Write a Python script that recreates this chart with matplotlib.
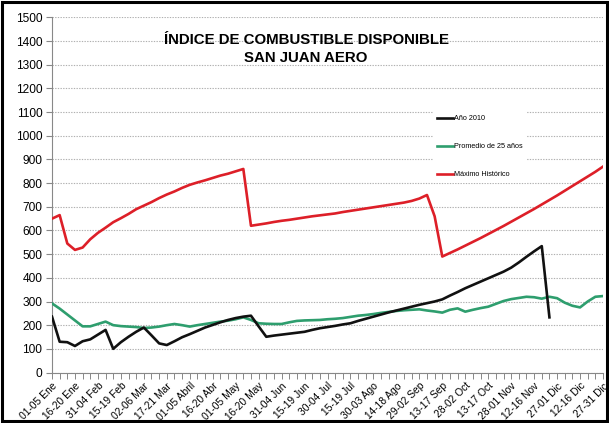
import matplotlib
matplotlib.use("Agg")
import matplotlib.pyplot as plt
import numpy as np
from matplotlib.lines import Line2D
from matplotlib.patches import Rectangle

plt.rcParams['font.family'] = ['Liberation Sans', 'DejaVu Sans']

labels = ["01-05 Ene", "16-20 Ene", "31-04 Feb", "15-19 Feb", "02-06 Mar", "17-21 Mar",
          "01-05 Abril", "16-20 Abr", "01-05 May", "16-20 May", "31-04 Jun", "15-19 Jun",
          "30-04 Jul", "15-19 Jul", "30-03 Ago", "14-18 Ago", "29-02 Sep", "13-17 Sep",
          "28-02 Oct", "13-17 Oct", "28-01 Nov", "12-16 Nov", "27-01 Dic", "12-16 Dic",
          "27-31 Dic"]

anio_2010 = [236, 130, 128, 112, 132, 140, 160, 180, 100, 128, 151, 172, 190, 157, 123, 116,
             132, 149, 162, 176, 190, 201, 212, 222, 230, 236, 240, 195, 151, 156, 160, 164,
             168, 172, 180, 187, 192, 197, 203, 208, 218, 227, 236, 245, 254, 262, 270, 278,
             286, 293, 300, 309, 325, 340, 356, 370, 384, 398, 412, 426, 443, 465, 489, 512,
             534, 233]

promedio_25 = [292, 270, 245, 220, 195, 195, 205, 215, 200, 196, 194, 192, 188, 190, 194, 200,
               205, 200, 194, 200, 205, 210, 215, 219, 225, 233, 222, 208, 206, 205, 205, 212,
               218, 220, 221, 222, 225, 227, 230, 235, 240, 243, 247, 252, 256, 260, 263, 265,
               267, 262, 258, 253, 265, 271, 257, 265, 272, 278, 290, 302, 310, 315, 320, 318,
               312, 320, 314, 295, 282, 275, 300, 320, 323]

maximo_hist = [650, 665, 545, 518, 528, 563, 590, 612, 635, 652, 670, 690, 705, 720, 737, 752,
               765, 780, 793, 803, 812, 822, 832, 840, 850, 860, 620, 625, 630, 636, 641, 645,
               650, 655, 660, 664, 668, 672, 678, 683, 688, 693, 698, 703, 708, 713, 718, 725,
               735, 750, 660, 490, 505, 520, 536, 552, 568, 585, 602, 619, 637, 655, 673, 691,
               710, 729, 748, 768, 788, 808, 828, 848, 870]

series_names = ["Año 2010", "Promedio de 25 años", "Máximo Histórico"]
colors = ["#111111", "#2e9e6e", "#dd1f28"]

W, H = 609, 423
fig = plt.figure(figsize=(W / 100, H / 100), dpi=100)
left, right, top, bottom = 52, 603, 17.5, 372.5
ax = fig.add_axes([left / W, 1 - bottom / H, (right - left) / W, (bottom - top) / H])

n = len(maximo_hist)
x_all = np.arange(n)
ax.plot(np.arange(len(anio_2010)), anio_2010, color=colors[0], lw=1.9, zorder=4)
ax.plot(x_all, promedio_25, color=colors[1], lw=1.9, zorder=3)
ax.plot(x_all, maximo_hist, color=colors[2], lw=1.9, zorder=3)

ax.set_xlim(0, n - 1)
ax.set_ylim(0, 1500)
ax.set_yticks(np.arange(0, 1501, 100))
ax.set_xticks(x_all, minor=True)
ax.set_xticks(np.arange(0, n, 3))
ax.set_xticklabels(labels, rotation=45, ha='right', rotation_mode='anchor', fontsize=7.4)
ax.tick_params(axis='y', labelsize=8.6, length=4, width=0.8, color='#888888', pad=3)
ax.tick_params(axis='x', which='both', length=4, width=0.7, color='#888888', pad=2)
ax.grid(axis='y', linestyle=(0, (1.2, 1.2)), color='#b0b0b0', lw=0.8, zorder=0)
for s in ['top', 'right']:
    ax.spines[s].set_visible(False)
ax.spines['left'].set_color('#888888')
ax.spines['bottom'].set_color('#888888')
ax.set_axisbelow(True)

handles = [Line2D([], [], color=c, lw=1.9) for c in colors]
leg = ax.legend(handles, series_names, loc='upper left',
                bbox_to_anchor=((433 - left) / (right - left), 1 - (111 - top) / (bottom - top)),
                fontsize=5.2, handlelength=2.1, handletextpad=0.2, labelspacing=2.9,
                frameon=True, framealpha=1, edgecolor='none', facecolor='white',
                borderpad=0.6, borderaxespad=0)
leg.set_zorder(5)

fig.text(306 / W, 1 - 40 / H, "ÍNDICE DE COMBUSTIBLE DISPONIBLE", ha='center', va='center',
         fontsize=10.8, fontweight='bold')
fig.text(306 / W, 1 - 58 / H, "SAN JUAN AERO", ha='center', va='center',
         fontsize=10.8, fontweight='bold')

fig.patches.append(Rectangle((2 / W, 2 / H), (W - 4) / W, (H - 4) / H, transform=fig.transFigure,
                             fill=False, edgecolor='black', lw=2.2))

fig.savefig("out.png", dpi=100)
